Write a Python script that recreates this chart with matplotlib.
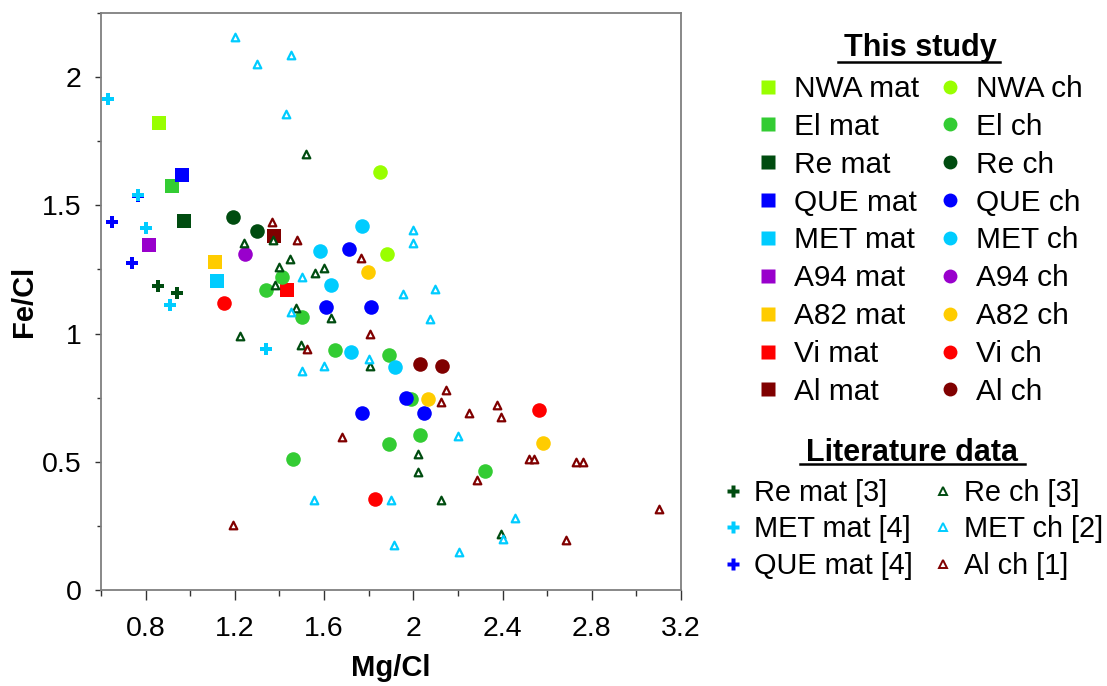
import matplotlib
matplotlib.use('Agg')
import matplotlib.pyplot as plt
from matplotlib.lines import Line2D
from matplotlib.ticker import MultipleLocator, FixedLocator

plt.rcParams['font.family'] = ['Liberation Sans', 'DejaVu Sans']

# Colores
C_NWA = '#99FF00'
C_EL = '#33CC33'
C_RE = '#004C10'
C_QUE = '#0000FF'
C_MET = '#00CCFF'
C_A94 = '#9900CC'
C_A82 = '#FFCC00'
C_VI = '#FF0000'
C_AL = '#800000'

# --- This study: matriz (mat) ---
nwa_mat_x = [0.86]
nwa_mat_y = [1.82]
el_mat_x = [0.92]
el_mat_y = [1.575]
re_mat_x = [0.97]
re_mat_y = [1.44]
que_mat_x = [0.965]
que_mat_y = [1.62]
met_mat_x = [1.12]
met_mat_y = [1.205]
a94_mat_x = [0.815]
a94_mat_y = [1.345]
a82_mat_x = [1.11]
a82_mat_y = [1.28]
vi_mat_x = [1.435]
vi_mat_y = [1.17]
al_mat_x = [1.375]
al_mat_y = [1.38]

# --- This study: condrulos (ch) ---
nwa_ch_x = [1.85, 1.88]
nwa_ch_y = [1.63, 1.31]
el_ch_x = [1.41, 1.34, 1.50, 1.65, 1.89, 1.99, 2.03, 1.89, 1.46, 2.32]
el_ch_y = [1.22, 1.17, 1.065, 0.935, 0.915, 0.745, 0.605, 0.57, 0.51, 0.465]
re_ch_x = [1.19, 1.30]
re_ch_y = [1.455, 1.40]
que_ch_x = [1.71, 1.61, 1.81, 1.965, 1.77, 2.05]
que_ch_y = [1.33, 1.105, 1.105, 0.75, 0.69, 0.69]
met_ch_x = [1.77, 1.58, 1.63, 1.72, 1.92]
met_ch_y = [1.42, 1.32, 1.19, 0.93, 0.87]
a94_ch_x = [1.245]
a94_ch_y = [1.31]
a82_ch_x = [1.795, 2.065, 2.58]
a82_ch_y = [1.24, 0.745, 0.575]
vi_ch_x = [1.15, 1.83, 2.565]
vi_ch_y = [1.12, 0.355, 0.70]
al_ch_x = [2.03, 2.13]
al_ch_y = [0.88, 0.872]

# --- Literature data ---
re_mat3_x = [0.855, 0.94]
re_mat3_y = [1.185, 1.16]
met_mat4_x = [0.63, 0.765, 0.80, 0.91, 1.34]
met_mat4_y = [1.915, 1.54, 1.41, 1.11, 0.94]
que_mat4_x = [0.65, 0.74, 0.765]
que_mat4_y = [1.435, 1.275, 1.535]
re_ch3_x = [1.24, 1.37, 1.445, 1.40, 1.38, 1.475, 1.225, 1.52, 1.56, 1.60,
            1.63, 1.495, 1.805, 2.02, 2.02, 2.125, 2.395]
re_ch3_y = [1.355, 1.365, 1.29, 1.26, 1.19, 1.10, 0.99, 1.70, 1.235, 1.255,
            1.06, 0.955, 0.875, 0.53, 0.46, 0.35, 0.22]
met_ch2_x = [1.20, 1.30, 1.45, 1.43, 1.45, 1.50, 1.50, 2.00, 2.00, 1.955,
             2.095, 2.075, 1.60, 1.80, 1.555, 1.90, 2.20, 1.915, 2.205, 2.455, 2.40]
met_ch2_y = [2.155, 2.05, 2.085, 1.855, 1.085, 1.22, 0.855, 1.405, 1.355, 1.155,
             1.175, 1.055, 0.875, 0.90, 0.35, 0.35, 0.60, 0.175, 0.15, 0.28, 0.20]
al_ch1_x = [1.365, 1.48, 1.765, 1.805, 1.525, 2.145, 2.125, 2.25, 1.68, 2.285,
            1.19, 2.375, 2.395, 2.52, 2.54, 2.73, 2.76, 3.10, 2.685]
al_ch1_y = [1.435, 1.365, 1.295, 1.0, 0.94, 0.78, 0.735, 0.69, 0.595, 0.43,
            0.255, 0.72, 0.675, 0.51, 0.51, 0.50, 0.50, 0.315, 0.195]

# Ejes
x_ticks = [0.8, 1.2, 1.6, 2.0, 2.4, 2.8, 3.2]
x_ticklabels = ['0.8', '1.2', '1.6', '2', '2.4', '2.8', '3.2']
y_ticks = [0, 0.5, 1, 1.5, 2]
y_ticklabels = ['0', '0.5', '1', '1.5', '2']

mat_series = [
    ('NWA mat', nwa_mat_x, nwa_mat_y, C_NWA),
    ('El mat', el_mat_x, el_mat_y, C_EL),
    ('Re mat', re_mat_x, re_mat_y, C_RE),
    ('QUE mat', que_mat_x, que_mat_y, C_QUE),
    ('MET mat', met_mat_x, met_mat_y, C_MET),
    ('A94 mat', a94_mat_x, a94_mat_y, C_A94),
    ('A82 mat', a82_mat_x, a82_mat_y, C_A82),
    ('Vi mat', vi_mat_x, vi_mat_y, C_VI),
    ('Al mat', al_mat_x, al_mat_y, C_AL),
]
ch_series = [
    ('NWA ch', nwa_ch_x, nwa_ch_y, C_NWA),
    ('El ch', el_ch_x, el_ch_y, C_EL),
    ('Re ch', re_ch_x, re_ch_y, C_RE),
    ('QUE ch', que_ch_x, que_ch_y, C_QUE),
    ('MET ch', met_ch_x, met_ch_y, C_MET),
    ('A94 ch', a94_ch_x, a94_ch_y, C_A94),
    ('A82 ch', a82_ch_x, a82_ch_y, C_A82),
    ('Vi ch', vi_ch_x, vi_ch_y, C_VI),
    ('Al ch', al_ch_x, al_ch_y, C_AL),
]
lit_plus = [
    ('Re mat [3]', re_mat3_x, re_mat3_y, C_RE),
    ('MET mat [4]', met_mat4_x, met_mat4_y, C_MET),
    ('QUE mat [4]', que_mat4_x, que_mat4_y, C_QUE),
]
lit_tri = [
    ('Re ch [3]', re_ch3_x, re_ch3_y, C_RE),
    ('MET ch [2]', met_ch2_x, met_ch2_y, C_MET),
    ('Al ch [1]', al_ch1_x, al_ch1_y, C_AL),
]

FS = 21
FS_LEG = 21.5
FS_LIT = 20.8

fig = plt.figure(figsize=(11.07, 6.86), dpi=100)
ax = fig.add_axes([101/1107, 96/686, 580/1107, 577/686])

for lab, xs, ys, c in mat_series:
    ax.scatter(xs, ys, marker='s', s=115, color=c, linewidths=0, zorder=3)
for lab, xs, ys, c in ch_series:
    ax.scatter(xs, ys, marker='o', s=110, color=c, linewidths=0, zorder=3)
# QUE debajo de MET
for lab, xs, ys, c in [lit_plus[0], lit_plus[2], lit_plus[1]]:
    ax.scatter(xs, ys, marker='P', s=75, color=c, linewidths=0, zorder=4)
for lab, xs, ys, c in lit_tri:
    ax.scatter(xs, ys, marker='^', s=30, facecolors='white', edgecolors=c,
               linewidths=1.6, zorder=4)

ax.set_xlim(0.6, 3.2)
ax.set_ylim(0, 2.25)
ax.xaxis.set_major_locator(FixedLocator(x_ticks))
ax.xaxis.set_minor_locator(MultipleLocator(0.2))
ax.yaxis.set_major_locator(FixedLocator(y_ticks))
ax.yaxis.set_minor_locator(MultipleLocator(0.25))
ax.set_xticklabels(x_ticklabels)
ax.set_yticklabels(y_ticklabels)

for sp in ax.spines.values():
    sp.set_color('#7f7f7f')
    sp.set_linewidth(1.3)
ax.tick_params(axis='x', which='major', length=7.5, width=1, color='#333333',
               labelsize=FS - 0.5, pad=11)
ax.tick_params(axis='x', which='minor', length=4, width=1, color='#333333')
ax.tick_params(axis='y', which='major', length=4, width=1, color='#333333',
               labelsize=FS - 0.5, pad=10)
ax.tick_params(axis='y', which='minor', length=3, width=1, color='#333333')

ax.set_xlabel('Mg/Cl', fontsize=FS, fontweight='bold', labelpad=9)
ax.set_ylabel('Fe/Cl', fontsize=FS, fontweight='bold', labelpad=3)

# Leyenda "This study"
h1 = [Line2D([], [], ls='none', marker='s', ms=10, mfc=c, mec='none') for _, _, _, c in mat_series]
h1 += [Line2D([], [], ls='none', marker='o', ms=10, mfc=c, mec='none') for _, _, _, c in ch_series]
l1 = [s[0] for s in mat_series] + [s[0] for s in ch_series]
leg1 = fig.legend(h1, l1, ncol=2, loc='upper left', bbox_to_anchor=(753/1107, 1 - 75/686),
                  frameon=False, fontsize=FS_LEG, handlelength=1.0, handletextpad=0.38,
                  columnspacing=0.53, labelspacing=0.33, borderpad=0, borderaxespad=0)

# Leyenda "Literature data"
h2 = [Line2D([], [], ls='none', marker='P', ms=8, mfc=c, mec='none') for _, _, _, c in lit_plus]
h2 += [Line2D([], [], ls='none', marker='^', ms=5.5, mfc='white', mec=c, mew=1.4) for _, _, _, c in lit_tri]
l2 = [s[0] for s in lit_plus] + [s[0] for s in lit_tri]
leg2 = fig.legend(h2, l2, ncol=2, loc='upper left', bbox_to_anchor=(724/1107, 1 - 479/686),
                  frameon=False, fontsize=FS_LIT, handlelength=0.6, handletextpad=0.43,
                  columnspacing=0.75, labelspacing=0.29, borderpad=0, borderaxespad=0)

# Titulos subrayados
fig.text(920/1107, 1 - 48/686, 'This study', ha='center', va='center',
         fontsize=22, fontweight='bold')
fig.add_artist(Line2D([838/1107, 1000/1107], [1 - 62/686, 1 - 62/686],
                      transform=fig.transFigure, color='black', lw=1.8))
fig.text(912/1107, 1 - 453/686, 'Literature data', ha='center', va='center',
         fontsize=22, fontweight='bold')
fig.add_artist(Line2D([800/1107, 1025/1107], [1 - 464/686, 1 - 464/686],
                      transform=fig.transFigure, color='black', lw=1.8))

fig.savefig('out.png', dpi=100)
